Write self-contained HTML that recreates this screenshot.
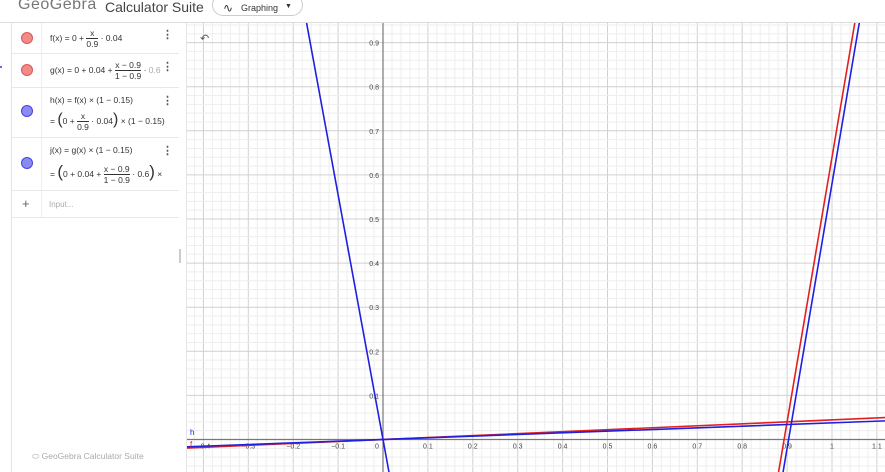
<!DOCTYPE html>
<html><head><meta charset="utf-8">
<style>
*{box-sizing:border-box}
html,body{margin:0;width:885px;height:472px;overflow:hidden}
body{background:#fff;font-family:"Liberation Sans",sans-serif;position:relative}
.top{position:absolute;left:0;top:0;width:885px;height:23px;border-bottom:1px solid #ddd;background:#fff;overflow:hidden}
.panel{position:absolute;left:11px;top:23px;width:176px;height:449px;border-left:1px solid #e4e4e4;border-right:1px solid #e4e4e4;background:#fff;overflow:hidden}
.row{position:absolute;left:0;width:167px;border-bottom:1px solid #e8e8e8;font-family:"Liberation Sans",sans-serif;font-size:8.5px;color:#333}
.mk{position:absolute;left:0;top:0;width:30px;height:100%;border-right:1px solid #eee}
.dot{position:absolute;left:9px;width:12px;height:12px;border-radius:50%}
.fr{display:inline-block;vertical-align:middle;text-align:center;line-height:10px}
.fr span{display:block}
.fr span.n{border-bottom:1px solid #333}
.kebab{position:absolute;left:150px;font-size:11px;color:#555;font-weight:bold}
</style></head><body>
<div class="top">
 <span style="position:absolute;left:18px;top:-4px;font-size:16px;color:#777;letter-spacing:0.5px">GeoGebra</span>
 <span style="position:absolute;left:105px;top:-1px;font-size:14px;color:#444">Calculator Suite</span>
 <div style="position:absolute;left:212px;top:-6px;width:91px;height:22px;border:1px solid #ccc;border-radius:12px;font-size:9px;color:#333">
  <span style="position:absolute;left:10px;top:6px;font-size:12px">&#8767;</span>
  <span style="position:absolute;left:28px;top:8px">Graphing</span>
  <span style="position:absolute;left:72px;top:8px;font-size:7px">&#9660;</span>
 </div>
</div>
<div style="position:absolute;left:0;top:66px;width:2px;height:2px;background:#66f"></div>
<div class="panel">
 <div class="row" style="top:0;height:31px">
  <div class="mk"><div class="dot" style="top:9px;background:#f28a8a;border:1px solid #e05555"></div></div>
  <div style="position:absolute;left:38px;top:5px">f(x) = 0 + <span class="fr"><span class="n">x</span><span>0.9</span></span> · 0.04</div>
  <div class="kebab" style="top:5px">⋮</div>
 </div>
 <div class="row" style="top:31px;height:34px">
  <div class="mk"><div class="dot" style="top:10px;background:#f28a8a;border:1px solid #e05555"></div></div>
  <div style="position:absolute;left:38px;top:6px">g(x) = 0 + 0.04 + <span class="fr"><span class="n">x − 0.9</span><span>1 − 0.9</span></span> · <span style="color:#aaa">0.6</span></div>
  <div class="kebab" style="top:6px">⋮</div>
 </div>
 <div class="row" style="top:65px;height:50px">
  <div class="mk"><div class="dot" style="top:17px;background:#8a8af5;border:1px solid #4444dd"></div></div>
  <div style="position:absolute;left:38px;top:7px">h(x) = f(x) × (1 − 0.15)</div>
  <div style="position:absolute;left:38px;top:23px;white-space:nowrap">= <span style="font-size:16px">(</span>0 + <span class="fr"><span class="n">x</span><span>0.9</span></span> · 0.04<span style="font-size:16px">)</span> × (1 − 0.15)</div>
  <div class="kebab" style="top:6px">⋮</div>
 </div>
 <div class="row" style="top:115px;height:53px">
  <div class="mk"><div class="dot" style="top:19px;background:#8a8af5;border:1px solid #4444dd"></div></div>
  <div style="position:absolute;left:38px;top:7px">j(x) = g(x) × (1 − 0.15)</div>
  <div style="position:absolute;left:38px;top:24px;white-space:nowrap">= <span style="font-size:17px">(</span>0 + 0.04 + <span class="fr"><span class="n">x − 0.9</span><span>1 − 0.9</span></span> · 0.6<span style="font-size:17px">)</span> ×</div>
  <div class="kebab" style="top:6px">⋮</div>
 </div>
 <div class="row" style="top:168px;height:27px">
  <div class="mk"><span style="position:absolute;left:10px;top:5px;font-size:13px;color:#666">+</span></div>
  <span style="position:absolute;left:37px;top:9px;color:#aaa;font-size:8px">Input...</span>
 </div>
 <div style="position:absolute;left:167px;top:226px;width:2px;height:14px;background:#ccc"></div>
 <div style="position:absolute;left:20px;top:428px;font-size:8.5px;color:#aaa">&#11053; GeoGebra Calculator Suite</div>
</div>
<svg id="g" width="885" height="472" style="position:absolute;left:0;top:0;display:block">
</svg>
<script>
const xTicks=[-0.4,-0.3,-0.2,-0.1,0,0.1,0.2,0.3,0.4,0.5,0.6,0.7,0.8,0.9,1,1.1];
const yTicks=[0.1,0.2,0.3,0.4,0.5,0.6,0.7,0.8,0.9];
const seriesNames=["f","g","h","j","k"];
const seriesSlopes=[0.04/0.9,6,0.85*0.04/0.9,6,-5.55];
const seriesIntercepts=[0,0.04-5.4,0,-5.42,0];
const seriesColors=["#e32020","#e32020","#2020e0","#2020e0","#2020e0"];
const L=187,T=23,R=885,B=472,X0=383,Y0=439.5,SX=449,SY=441;
const sx=v=>X0+v*SX, sy=v=>Y0-v*SY;
const svg=document.getElementById('g');const NS='http://www.w3.org/2000/svg';
function mk(t,a,p){const e=document.createElementNS(NS,t);for(const k in a)e.setAttribute(k,a[k]);(p||svg).appendChild(e);return e;}
const cp=mk('clipPath',{id:'c'});mk('rect',{x:L,y:T,width:R-L,height:B-T},cp);
const gr=mk('g',{'clip-path':'url(#c)'});


for(let i=-30;i<=60;i++){const x=sx(i*0.02);const l=mk('line',{x1:x,x2:x,y1:T,y2:B,stroke:i%5==0?'#d0d0d0':'#eeeeee','stroke-width':1},gr);

}
for(let i=-5;i<=50;i++){const y=sy(i*0.02);const l=mk('line',{x1:L,x2:R,y1:y,y2:y,stroke:i%5==0?'#d0d0d0':'#eeeeee','stroke-width':1},gr);

}
const xa=mk('line',{x1:L,x2:R,y1:Y0,y2:Y0,stroke:'#777','stroke-width':1.2},gr);


const ya=mk('line',{x1:X0,x2:X0,y1:T,y2:B,stroke:'#777','stroke-width':1.2},gr);


xTicks.forEach(v=>{const t=mk('text',{x:v==0?sx(v)-6:sx(v),y:Y0+9,'font-size':7,'text-anchor':'middle',fill:'#444','font-family':'Liberation Sans'},gr);t.textContent=v==0?'0':(v<0?'−'+String(-v):String(v));

});
yTicks.forEach(v=>{const t=mk('text',{x:X0-4,y:sy(v)+3,'font-size':7,'text-anchor':'end',fill:'#444','font-family':'Liberation Sans'},gr);t.textContent=String(v);

});
seriesNames.forEach((n,i)=>{const m=seriesSlopes[i],b=seriesIntercepts[i];const x1=-1,x2=2;
const l=mk('line',{x1:sx(x1),y1:sy(m*x1+b),x2:sx(x2),y2:sy(m*x2+b),stroke:seriesColors[i],'stroke-width':1.6},gr);

});
[['h',435,'#2020e0'],['f',447,'#e32020']].forEach(a=>{const t=mk('text',{x:190,y:a[1],'font-size':8,fill:a[2],'font-family':'Liberation Sans'},gr);t.textContent=a[0];

});
const u=mk('text',{x:200,y:42,'font-size':11,fill:'#555'},gr);u.textContent='↶';


</script>
</body></html>
